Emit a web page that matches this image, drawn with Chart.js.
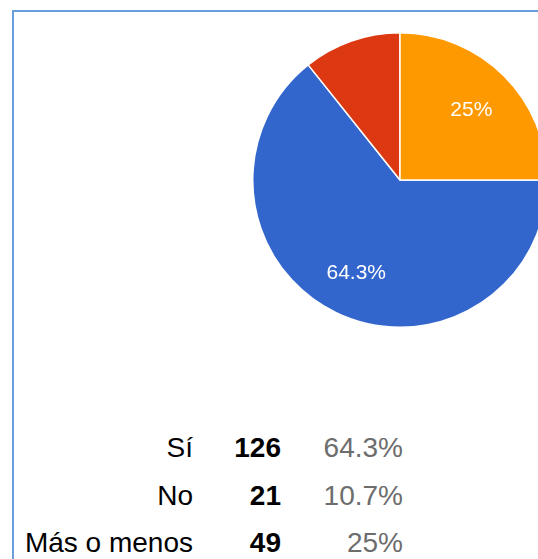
<!DOCTYPE html>
<html>
<head>
<meta charset="utf-8">
<script src="https://cdn.jsdelivr.net/npm/chart.js@4"></script>
<style>
  html, body { margin: 0; padding: 0; width: 538px; height: 559px; overflow: hidden; background: #fff; }
  #frame { position: absolute; left: 12px; top: 10px; width: 600px; height: 600px;
           border-left: 2px solid #6a9fdc; border-top: 2px solid #6a9fdc; box-sizing: border-box; }
  #pieBox { position: absolute; left: 252px; top: 32px; width: 296px; height: 296px; }
  .cell { position: absolute; font-family: "Liberation Sans", Arial, sans-serif; font-size: 28px;
          line-height: 28px; white-space: nowrap; text-align: right; }
  .cat { color: #000; }
  .cnt { color: #000; font-weight: bold; }
  .pct { color: #6d6d6d; }
</style>
</head>
<body>
<div id="frame"></div>
<div id="pieBox"><canvas id="c"></canvas></div>
<div id="table"></div>
<script>
const categories = ['Sí', 'No', 'Más o menos'];
const counts = [126, 21, 49];
const percentLabels = ['64.3%', '10.7%', '25%'];
const showSliceLabel = [true, false, true];
const colors = ['#3366cc', '#dc3912', '#ff9900'];

// Table below the pie
const table = document.getElementById('table');
categories.forEach((cat, i) => {
  const top = 458 + 47.5 * i - 24;
  const cols = [
    { text: cat, right: 193, cls: 'cat' },
    { text: String(counts[i]), right: 281, cls: 'cnt' },
    { text: percentLabels[i], right: 403, cls: 'pct' }
  ];
  cols.forEach(c => {
    const d = document.createElement('div');
    d.className = 'cell ' + c.cls;
    d.textContent = c.text;
    d.style.top = Math.round(top) + 'px';
    d.style.right = (538 - c.right) + 'px';
    table.appendChild(d);
  });
});

const sliceLabels = {
  id: 'sliceLabels',
  afterDatasetsDraw(chart) {
    const ctx = chart.ctx;
    const meta = chart.getDatasetMeta(0);
    ctx.save();
    ctx.fillStyle = '#ffffff';
    ctx.font = '21px "Liberation Sans", Arial, sans-serif';
    ctx.textAlign = 'center';
    ctx.textBaseline = 'middle';
    meta.data.forEach((arc, i) => {
      if (!showSliceLabel[i]) return;
      const p = arc.getProps(['startAngle', 'endAngle', 'x', 'y', 'outerRadius'], true);
      const mid = (p.startAngle + p.endAngle) / 2;
      const r = p.outerRadius * 0.685;
      ctx.fillText(percentLabels[i], p.x + Math.cos(mid) * r, p.y + Math.sin(mid) * r + 2);
    });
    ctx.restore();
  }
};

new Chart(document.getElementById('c'), {
  type: 'pie',
  data: {
    labels: categories,
    datasets: [{
      data: counts,
      backgroundColor: colors,
      borderColor: '#ffffff',
      borderWidth: 1.5
    }]
  },
  options: {
    responsive: true,
    maintainAspectRatio: false,
    animation: false,
    rotation: 90,
    layout: { padding: 0 },
    plugins: { legend: { display: false }, tooltip: { enabled: false } }
  },
  plugins: [sliceLabels]
});
</script>
</body>
</html>
